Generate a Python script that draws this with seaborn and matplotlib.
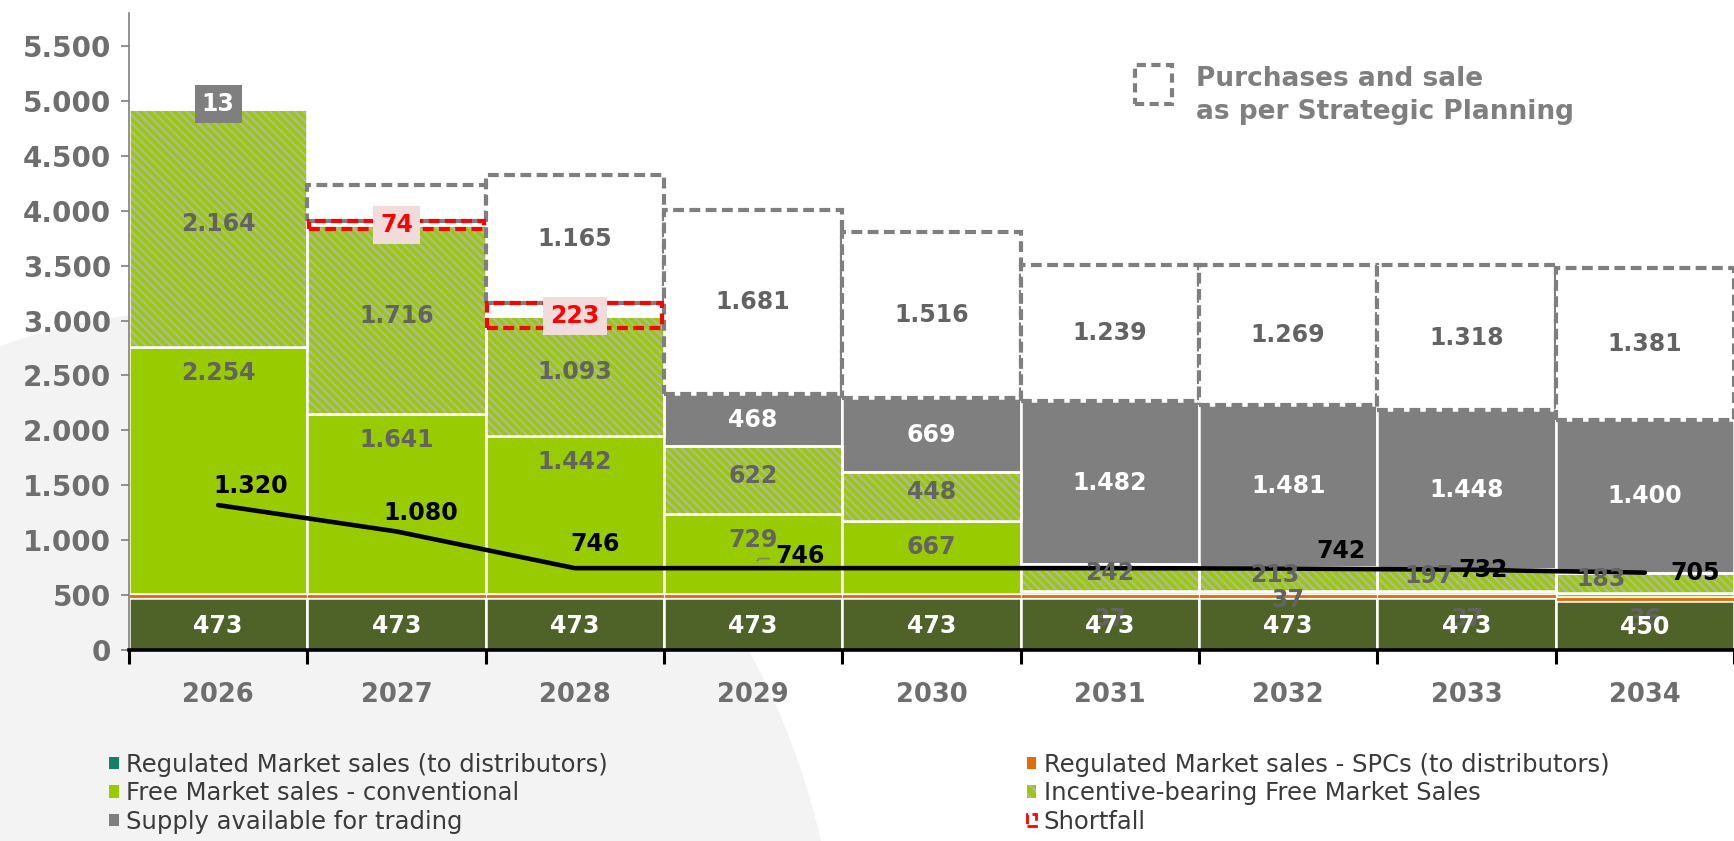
import numpy as np
import pandas as pd
import matplotlib
matplotlib.use("Agg")
import matplotlib.pyplot as plt
import seaborn as sns
from matplotlib.patches import Patch, Rectangle, Ellipse
from matplotlib.ticker import FuncFormatter

# =========================================================
# DATA
# =========================================================

years = ["2026", "2027", "2028", "2029", "2030", "2031", "2032", "2033", "2034"]

regulated = [473, 473, 473, 473, 473, 473, 473, 473, 450]
spc = [37, 37, 37, 37, 37, 37, 37, 37, 36]
free_conv = [2254, 1641, 1442, 729, 667, 30, 30, 30, 30]
incentive = [2164, 1716, 1093, 622, 448, 242, 213, 197, 183]
supply = [13, 0, 0, 468, 669, 1482, 1481, 1448, 1400]
shortfall = [0, 74, 223, 0, 0, 0, 0, 0, 0]
planned = [0, 330, 1165, 1681, 1516, 1239, 1269, 1318, 1381]
contracted = [1320, 1080, 746, 746, 746, 746, 742, 732, 705]

show_conv = [True, True, True, True, True, False, False, False, False]
show_plan = [False, False, True, True, True, True, True, True, True]
show_spc = [False, False, False, False, False, True, True, True, True]
show_line = [True, True, True, True, False, False, True, True, True]

# =========================================================
# COLOURS
# =========================================================

c_reg = "#4F6228"
c_spc = "#E46C0A"
c_green = "#99CC00"
c_gray = "#7F7F7F"
c_hatch = "#B4B4B4"
c_lab = "#636363"
c_red = "#FF0000"


def fmt(v):
    return f"{int(round(v)):,}".replace(",", ".")


df = pd.DataFrame({
    "year": years,
    "regulated": regulated,
    "spc": spc,
    "free_conv": free_conv,
    "incentive": incentive,
    "supply": supply,
})

n = len(years)
x = np.arange(n)
b_spc = np.array(regulated, dtype=float)
b_conv = b_spc + np.array(spc)
b_inc = b_conv + np.array(free_conv)
b_sup = b_inc + np.array(incentive)
top = b_sup + np.array(supply)

# =========================================================
# FIGURE
# =========================================================

sns.set_style("ticks")
plt.rcParams["font.family"] = ["DejaVu Sans"]
plt.rcParams["hatch.color"] = c_hatch
plt.rcParams["hatch.linewidth"] = 1.5

fig = plt.figure(figsize=(17.34, 8.41), dpi=100)
fig.patch.set_facecolor("white")
fig.add_artist(Ellipse((0.1153, -0.20), 0.738, 1.66,
                       transform=fig.transFigure, facecolor="#F2F3F2",
                       edgecolor="none", zorder=-1))

ax = fig.add_axes([0.0744, 0.227, 0.9256, 0.7575])
ax.set_facecolor("none")

# stacked segments: (column, bottom, colour, hatch, edge width, zorder)
layers = [
    ("regulated", np.zeros(n), c_reg, None, 1.8, 2),
    ("spc", b_spc, c_spc, None, 0.8, 2.5),
    ("free_conv", b_conv, c_green, None, 1.8, 2),
    ("incentive", b_inc, c_green, "\\\\\\\\", 1.8, 2),
    ("supply", b_sup, c_gray, None, 1.8, 2),
]

for col, bottom, color, hatch, lw, z in layers:
    if hatch is None:
        sns.barplot(data=df, x="year", y=col, order=years, bottom=bottom,
                    color=color, saturation=1, width=1, errorbar=None,
                    edgecolor="white", linewidth=lw, ax=ax, zorder=z)
    else:
        sns.barplot(data=df, x="year", y=col, order=years, bottom=bottom,
                    color=color, saturation=1, width=1, errorbar=None,
                    edgecolor=c_hatch, linewidth=0, hatch=hatch, ax=ax, zorder=z)
        ax.bar(x, df[col], bottom=bottom, width=1, fill=False,
               edgecolor="white", linewidth=lw, zorder=z + 0.1)

# planned purchases/sales boxes (dashed gray)
plan_bottom = top + np.array(shortfall) / 2
for i in range(n):
    if planned[i] > 0:
        ax.bar(i, planned[i], bottom=plan_bottom[i], width=1,
               facecolor="white", edgecolor=c_gray, linewidth=3,
               linestyle=(0, (2.6, 1.3)), zorder=3)

# shortfall boxes (dashed red)
for i in range(n):
    if shortfall[i] > 0:
        ax.bar(i, shortfall[i], bottom=top[i] - shortfall[i] / 2, width=0.98,
               facecolor="none", edgecolor=c_red, linewidth=3,
               linestyle=(0, (2.6, 1.3)), zorder=4)

# contracted line
sns.lineplot(x=x, y=contracted, color="black", linewidth=3.3, ax=ax,
             zorder=6, solid_capstyle="round")

# =========================================================
# LABELS
# =========================================================

lab_kw = dict(ha="center", va="center", fontsize=17, fontweight="bold",
              textcoords="offset pixels", zorder=7)

spc_offsets = [0, 0, 0, 0, 0, -23, -4, -23, -20]
for i in range(n):
    if show_spc[i]:
        ax.annotate(str(spc[i]), (i, b_spc[i] + spc[i] / 2),
                    xytext=(0, spc_offsets[i]), color=c_lab, **lab_kw)

for i in range(n):
    ax.annotate(fmt(regulated[i]), (i, regulated[i] / 2), xytext=(0, -2),
                color="white", **lab_kw)

for i in range(n):
    if show_conv[i]:
        ax.annotate(fmt(free_conv[i]), (i, b_inc[i]), xytext=(0, -26),
                    color=c_lab, **lab_kw)

inc_offsets = [0, 0, 0, 0, 0, 0, -13, -37, -44]
for i in range(n):
    ax.annotate(fmt(incentive[i]), (i, b_inc[i] + incentive[i] / 2),
                xytext=(inc_offsets[i], 4), color=c_lab, **lab_kw)

for i in range(1, n):
    if supply[i] > 0:
        ax.annotate(fmt(supply[i]), (i, b_sup[i] + supply[i] / 2),
                    xytext=(0, 0), color="white", **lab_kw)

ax.annotate(fmt(supply[0]), (0, top[0]), xytext=(0, 3), color="white",
            bbox=dict(boxstyle="square,pad=0.3", facecolor=c_gray,
                      edgecolor="none"), **lab_kw)

for i in range(n):
    if show_plan[i]:
        ax.annotate(fmt(planned[i]), (i, plan_bottom[i] + planned[i] / 2),
                    xytext=(0, 0), color=c_lab, **lab_kw)

for i in range(n):
    if shortfall[i] > 0:
        ax.annotate(fmt(shortfall[i]), (i, top[i]), xytext=(0, 0),
                    color=c_red,
                    bbox=dict(boxstyle="square,pad=0.3", facecolor="#F2DCDB",
                              edgecolor="none"), **lab_kw)

line_offsets = [(33, 19), (24, 18), (20, 24), (47, 12), (0, 0), (0, 0),
                (53, 18), (17, 0), (50, 0)]
for i in range(n):
    if not show_line[i]:
        continue
    extra = {}
    if i in (3, 6):
        extra["arrowprops"] = dict(arrowstyle="-", color=c_gray, lw=1.2,
                                   shrinkA=2, shrinkB=6, relpos=(0, 0.4),
                                   connectionstyle="angle,angleA=0,angleB=60,rad=0")
    ax.annotate(fmt(contracted[i]), (i, contracted[i]), xytext=line_offsets[i],
                color="black", **lab_kw, **extra)

# =========================================================
# AXES
# =========================================================

ax.set_xlim(-0.5, 8.42)
ax.set_ylim(0, 5800)
ax.set_xlabel("")
ax.set_ylabel("")

ax.set_yticks(np.arange(0, 5501, 500))
ax.yaxis.set_major_formatter(FuncFormatter(lambda v, p: fmt(v)))
ax.tick_params(axis="y", length=6, width=1.2, color=c_gray, pad=7,
               labelsize=20, labelcolor="#6E6E6E")
for t in ax.get_yticklabels():
    t.set_fontweight("bold")

bounds = np.arange(-0.5, n, 1.0)
ax.set_xticks(bounds, labels=[""] * len(bounds))
ax.set_xticks(x, labels=years, minor=True)
ax.tick_params(axis="x", which="major", length=10, width=2.2, color="black",
               direction="out")
ax.tick_params(axis="x", which="minor", length=0, pad=23, labelsize=18.5,
               labelcolor="#6E6E6E")
for t in ax.get_xticklabels(minor=True):
    t.set_fontweight("bold")

sns.despine(ax=ax)
ax.spines["left"].set_color(c_gray)
ax.spines["left"].set_linewidth(1.2)
ax.spines["bottom"].set_color("black")
ax.spines["bottom"].set_linewidth(2.6)
ax.spines["bottom"].set_zorder(8)

# =========================================================
# LEGENDS
# =========================================================

leg_kw = dict(frameon=False, fontsize=17.5, handlelength=0.4, handleheight=0.4,
              handletextpad=0.3, labelspacing=0.19, borderpad=0, borderaxespad=0,
              loc="upper left", labelcolor="#3A3A3A")

left_handles = [
    Patch(facecolor="#13806A", edgecolor="none"),
    Patch(facecolor=c_green, edgecolor="none"),
    Patch(facecolor=c_gray, edgecolor="none"),
]
left_labels = ["Regulated Market sales (to distributors)",
               "Free Market sales - conventional",
               "Supply available for trading"]
right_handles = [
    Patch(facecolor=c_spc, edgecolor="none"),
    Patch(facecolor=c_green, edgecolor=c_hatch, linewidth=0, hatch="\\\\\\"),
    Patch(facecolor="none", edgecolor=c_red, linewidth=2, linestyle="--"),
]
right_labels = ["Regulated Market sales - SPCs (to distributors)",
                "Incentive-bearing Free Market Sales",
                "Shortfall"]

fig.legend(left_handles, left_labels, bbox_to_anchor=(0.063, 0.105), **leg_kw)
fig.legend(right_handles, right_labels, bbox_to_anchor=(0.592, 0.105), **leg_kw)

# strategic planning key
fig.add_artist(Rectangle((0.6545, 0.876), 0.0215, 0.047, transform=fig.transFigure,
                         facecolor="none", edgecolor=c_gray, linewidth=3,
                         linestyle=(0, (2.2, 1.3))))
fig.text(0.690, 0.922, "Purchases and sale\nas per Strategic Planning",
         ha="left", va="top", fontsize=19, fontweight="bold", color=c_gray,
         linespacing=1.35)

fig.savefig("out.png", dpi=100)
